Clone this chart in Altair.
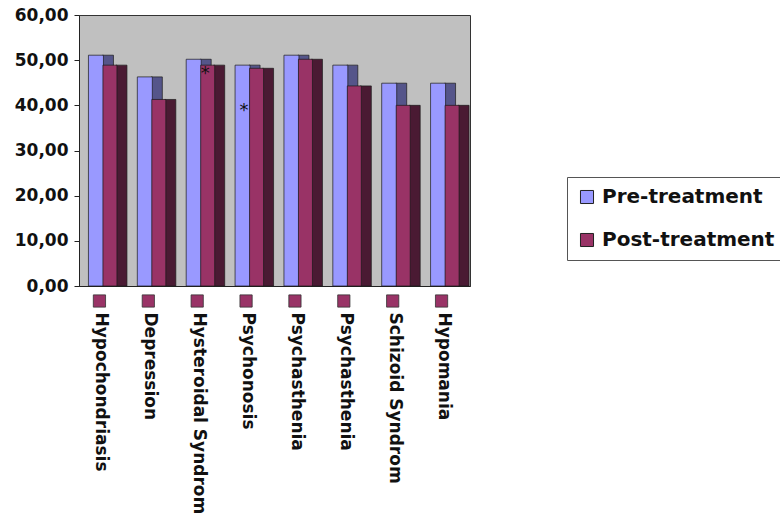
import altair as alt
import pandas as pd

categories = ["Hypochondriasis", "Depression", "Hysteroidal Syndrom", "Psychonosis",
              "Psychasthenia", "Psychasthenia ", "Schizoid Syndrom", "Hypomania"]
pre = [51.1, 46.3, 50.2, 48.9, 51.1, 48.9, 44.9, 44.9]
post = [48.9, 41.3, 48.9, 48.2, 50.2, 44.3, 40.0, 40.0]
series_names = ["Pre-treatment", "Post-treatment"]
y_ticks = [0, 10, 20, 30, 40, 50, 60]
star_cats = ["Hysteroidal Syndrom", "Psychonosis"]
star_vals = [47.8, 39.7]
star_series = ["Post-treatment", "Pre-treatment"]

rows = []
for c, a, b in zip(categories, pre, post):
    rows.append({"cat": c, "series": series_names[0], "value": a})
    rows.append({"cat": c, "series": series_names[1], "value": b})
df = pd.DataFrame(rows)
stars = pd.DataFrame({"cat": star_cats, "value": star_vals, "series": star_series})
cats_df = pd.DataFrame({"cat": categories})

W, H = 391, 271
FONT = "DejaVu Sans"
TXT = "#111111"

x_enc = alt.X("cat:N", sort=categories, title=None,
              scale=alt.Scale(paddingInner=0, paddingOuter=0),
              axis=alt.Axis(labelAngle=90, labelAlign="left", labelBaseline="middle",
                            labelFont=FONT, labelFontWeight="bold", labelFontSize=17,
                            labelColor=TXT, labelPadding=26, ticks=False, labelOffset=-2,
                            domainColor="#222222", labelLimit=300))
y_enc = alt.Y("value:Q", title=None,
              scale=alt.Scale(domain=[0, 60], nice=False),
              axis=alt.Axis(values=y_ticks, grid=False,
                            labelExpr="replace(format(datum.value, '.2f'), '.', ',')",
                            labelFont=FONT, labelFontWeight="bold", labelFontSize=17,
                            labelColor=TXT, tickSize=5, tickColor="#222222",
                            domainColor="#222222", labelPadding=6))

color_scale = alt.Scale(domain=series_names, range=["#9999FF", "#993366"])

def layer(series, dx, w, color=None):
    base = alt.Chart(df).transform_filter(alt.datum.series == series).mark_bar(
        xOffset=dx, width=w, stroke="#1a1a1a", strokeWidth=0.7)
    if color is None:
        return base.encode(
            x=x_enc, y=y_enc,
            color=alt.Color("series:N", scale=color_scale,
                            legend=alt.Legend(title=None, orient="none", legendX=488, legendY=162,
                                              labelFont=FONT, labelFontWeight="bold",
                                              labelFontSize=20, labelColor=TXT,
                                              symbolType="square", symbolSize=170,
                                              symbolStrokeColor="#222222", symbolStrokeWidth=1,
                                              rowPadding=23, padding=10, labelOffset=5,
                                              strokeColor="#555555", fillColor="white",
                                              labelLimit=400)))
    return base.encode(x=x_enc, y=y_enc, color=alt.value(color))

pre_back = layer("Pre-treatment", 4.5, 11, "#55558a")
post_back = layer("Post-treatment", 18, 11, "#4a1a33")
pre_front = layer("Pre-treatment", -7.5, 15)
post_front = layer("Post-treatment", 6.5, 14)

star_a = alt.Chart(stars).transform_filter(alt.datum.series == "Post-treatment").mark_text(
    text="*", fontSize=18, font=FONT, color="#111111", dx=4, dy=4).encode(
    x=alt.X("cat:N", sort=categories), y=alt.Y("value:Q"))
star_b = alt.Chart(stars).transform_filter(alt.datum.series == "Pre-treatment").mark_text(
    text="*", fontSize=18, font=FONT, color="#111111", dx=-6, dy=4).encode(
    x=alt.X("cat:N", sort=categories), y=alt.Y("value:Q"))

keys = alt.Chart(cats_df).mark_square(size=150, fill="#993366", stroke="#333333",
                                      strokeWidth=0.8, opacity=1, xOffset=-4).encode(
    x=alt.X("cat:N", sort=categories), y=alt.value(H + 15))

chart = alt.layer(pre_back, post_back, pre_front, post_front, star_a, star_b, keys).properties(
    width=W, height=H,
    padding={"left": 79, "top": 15, "right": 310, "bottom": 231},
    autosize=alt.AutoSizeParams(type="none"),
    background="white",
).configure_view(fill="#C0C0C0", stroke="#333333", strokeWidth=1)

chart.save("out.html", embed_options={"renderer": "svg", "actions": False})
